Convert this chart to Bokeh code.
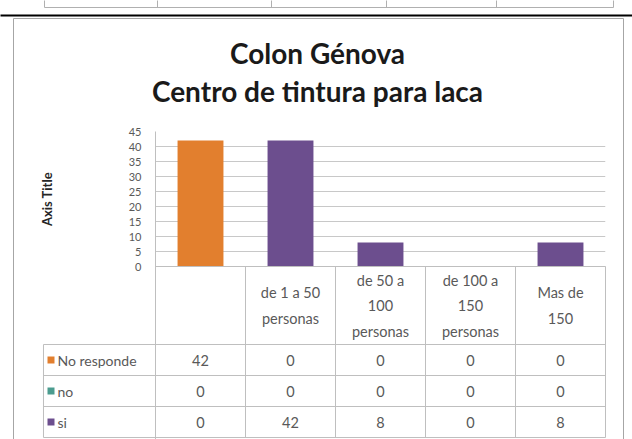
import math
from bokeh.plotting import figure
from bokeh.models import FactorRange, Range1d, FixedTicker, ColumnDataSource
from bokeh.core.properties import value
from bokeh.embed import file_html
from bokeh.resources import INLINE

# ---------------- data ----------------
title_lines = ["Colon Génova", "Centro de tintura para laca"]
categories = ["", "de 1 a 50 personas", "de 50 a 100 personas", "de 100 a 150 personas", "Mas de 150"]
header_labels = ["", "de 1 a 50\npersonas", "de 50 a\n100\npersonas", "de 100 a\n150\npersonas", "Mas de\n150"]
series_names = ["No responde", "no", "si"]
no_responde = [42, 0, 0, 0, 0]
no = [0, 0, 0, 0, 0]
si = [0, 42, 8, 0, 8]
y_ticks = [0, 5, 10, 15, 20, 25, 30, 35, 40, 45]
y_axis_title = "Axis Title"
series_colors = ["#E27F2E", "#4B9C8F", "#6C4E8E"]

# ---------------- layout (page pixels) ----------------
W, H = 632, 439
PAGE_OFF = 0
FRAME_L, FRAME_R = 155, 605
FRAME_T, FRAME_B = 131, 439
PX_PER_UNIT = 3.0
Y_MAX = y_ticks[-1]
Y0_PAGE = FRAME_T + Y_MAX * PX_PER_UNIT
Y_MIN = -(FRAME_B - Y0_PAGE) / PX_PER_UNIT
N = len(categories)
CAT_PX = (FRAME_R - FRAME_L) / N


def dx(px):
    return (px - FRAME_L) / CAT_PX


def dy(py):
    return (Y0_PAGE - py) / PX_PER_UNIT


FONT = value("Lato")
TXT_COL = "#595959"
LINE_COL = "#BFBFBF"

p = figure(width=W, height=H,
           x_range=FactorRange(factors=categories, range_padding=0, factor_padding=0),
           y_range=Range1d(Y_MIN, Y_MAX),
           output_backend="svg", toolbar_location=None, x_axis_location=None,
           min_border_left=FRAME_L - PAGE_OFF, min_border_right=PAGE_OFF + W - FRAME_R,
           min_border_top=FRAME_T - PAGE_OFF, min_border_bottom=PAGE_OFF + H - FRAME_B)
p.outline_line_color = None
p.background_fill_color = "white"
p.border_fill_color = "white"

# axis & grid
p.yaxis.ticker = FixedTicker(ticks=y_ticks)
p.yaxis.axis_line_color = LINE_COL
p.yaxis.major_tick_line_color = None
p.yaxis.minor_tick_line_color = None
p.yaxis.major_label_standoff = 8
p.yaxis.major_label_text_font = "Lato"
p.yaxis.major_label_text_font_size = "11px"
p.yaxis.major_label_text_color = TXT_COL
p.xgrid.visible = False
p.ygrid.grid_line_color = "#C8C8C8"

# bars (stacked)
src = ColumnDataSource(data={"cat": categories, "No responde": no_responde, "no": no, "si": si})
p.vbar_stack(series_names, x="cat", width=0.51, color=series_colors, line_color=None, source=src)

# ---------------- data table ----------------
HEADER_H = 26.0
ROW_H = 31.0 / PX_PER_UNIT
row_bounds = [-HEADER_H - i * ROW_H for i in range(len(series_names) + 1)]
row_centers = [-HEADER_H - (i + 0.5) * ROW_H for i in range(len(series_names))]
TABLE_BOT = row_bounds[-1]
LEG_L = dx(43)

x0, y0, x1, y1 = [], [], [], []
x0.append(0); y0.append(0); x1.append(N); y1.append(0)
for yb in row_bounds:
    x0.append(LEG_L); y0.append(yb); x1.append(N); y1.append(yb)
for k in range(1, N + 1):
    x0.append(k); y0.append(0); x1.append(k); y1.append(TABLE_BOT)
x0.append(LEG_L); y0.append(-HEADER_H); x1.append(LEG_L); y1.append(TABLE_BOT)
p.segment(x0=x0, y0=y0, x1=x1, y1=y1, line_color=LINE_COL, line_width=1, level="annotation")

p.text(x=categories, y=[-HEADER_H / 2] * N, text=header_labels,
       text_align="center", text_baseline="middle", text_font=FONT,
       text_font_size="14.5px", text_color=TXT_COL, text_line_height=1.5)

for i, vals in enumerate([no_responde, no, si]):
    p.text(x=categories, y=[row_centers[i]] * N, text=[str(v) for v in vals],
           text_align="center", text_baseline="middle", text_font=FONT,
           text_font_size="14.5px", text_color=TXT_COL)

# legend keys (small squares) in the row-header column
p.segment(x0=[dx(47)] * len(series_names), y0=row_centers,
          x1=[dx(54)] * len(series_names), y1=row_centers,
          line_color=series_colors, line_width=7, line_cap="butt", level="annotation")
p.text(x=[dx(57)] * len(series_names), y=row_centers, text=series_names,
       text_align="left", text_baseline="middle", text_font=FONT,
       text_font_size="14px", text_color=TXT_COL, level="annotation")

# ---------------- titles ----------------
p.text(x=[dx(317)] * len(title_lines), y=[dy(52), dy(90)], text=title_lines,
       text_align="center", text_baseline="middle", text_font=FONT,
       text_font_style="bold", text_font_size="28px", text_color="#1A1A1A",
       level="annotation")

p.text(x=[dx(46)], y=[(y_ticks[0] + y_ticks[-1]) / 2], text=[y_axis_title],
       angle=math.pi / 2, text_align="center", text_baseline="middle",
       text_font=FONT, text_font_style="bold", text_font_size="13px",
       text_color="#262626", level="annotation")

# ---------------- surrounding frame / page bits ----------------
fx0 = [dx(13), dx(13), dx(623)]
fy0 = [dy(18), dy(18), dy(18)]
fx1 = [dx(623), dx(13), dx(623)]
fy1 = [dy(18), dy(445), dy(445)]
p.segment(x0=fx0, y0=fy0, x1=fx1, y1=fy1, line_color="#A6A6A6", line_width=1, level="annotation")

# remnants of the page content above the chart
cell_x = [44, 157, 271, 386, 496, 613]
p.segment(x0=[dx(v) for v in cell_x], y0=[dy(0)] * len(cell_x),
          x1=[dx(v) for v in cell_x], y1=[dy(7)] * len(cell_x),
          line_color="#B0B0B0", line_width=1, level="annotation")
p.segment(x0=[dx(cell_x[0])], y0=[dy(7)], x1=[dx(cell_x[-1])], y1=[dy(7)],
          line_color="#B0B0B0", line_width=1, level="annotation")
p.segment(x0=[dx(0)], y0=[dy(15)], x1=[dx(632)], y1=[dy(15)],
          line_color="black", line_width=2, level="annotation")

open("out.html", "w").write(file_html(p, INLINE))
